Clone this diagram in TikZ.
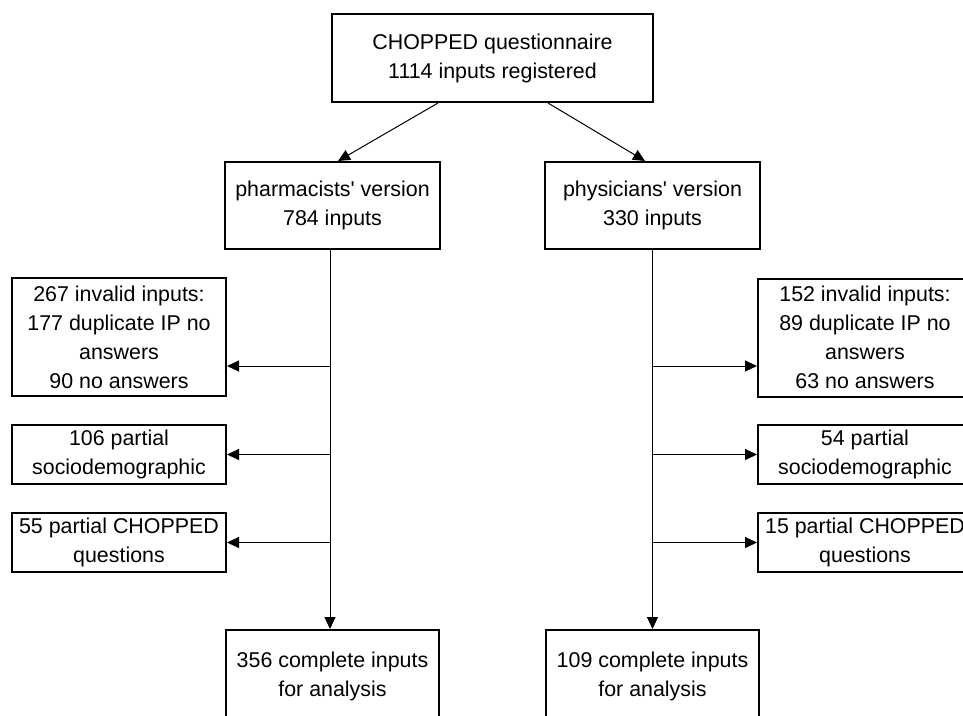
\documentclass[tikz,border=0pt]{standalone}
\usepackage{fontspec}
\newfontfamily\arialfont{Liberation Sans}
\usetikzlibrary{arrows.meta}
\tikzset{
  box/.style={draw=black, line width=2pt, fill=white, align=center, inner sep=0pt,
    font={\arialfont\fontsize{21.4pt}{29pt}\selectfont}},
  arr/.style={draw=black, line width=1pt, -{Triangle[length=12pt,width=11pt]}},
  ln/.style={draw=black, line width=1pt}
}
\begin{document}
\begin{tikzpicture}[x=1pt,y=-1pt]
\clip (0,0) rectangle (963,715);
\fill[white] (0,0) rectangle (963,715);

\node[box, minimum width=321pt, minimum height=88pt] (top) at (492.5,58) {CHOPPED questionnaire\\1114 inputs registered};

\node[box, minimum width=215pt, minimum height=87pt] (ph) at (332.5,205.5) {pharmacists' version\\784 inputs};
\node[box, minimum width=215pt, minimum height=87pt] (py) at (652.5,205.5) {physicians' version\\330 inputs};

\node[box, minimum width=214pt, minimum height=118pt] (l1) at (119,337) {267 invalid inputs:\\177 duplicate IP no\\answers\\90 no answers};
\node[box, minimum width=214pt, minimum height=59pt] (l2) at (119,454.5) {106 partial\\sociodemographic};
\node[box, minimum width=214pt, minimum height=59pt] (l3) at (119,542.5) {55 partial CHOPPED\\questions};

\node[box, minimum width=214pt, minimum height=118pt] (r1) at (865,337.5) {152 invalid inputs:\\89 duplicate IP no\\answers\\63 no answers};
\node[box, minimum width=214pt, minimum height=59pt] (r2) at (865,454.5) {54 partial\\sociodemographic};
\node[box, minimum width=214pt, minimum height=59pt] (r3) at (865,542.5) {15 partial CHOPPED\\questions};

\node[box, minimum width=213pt, minimum height=92pt] (b1) at (332.5,676) {356 complete inputs\\for analysis};
\node[box, minimum width=213pt, minimum height=92pt] (b2) at (652.5,676) {109 complete inputs\\for analysis};

% helper coordinates
\coordinate (phs) at ([xshift=-2.5pt]ph.south);
\coordinate (b1n) at ([xshift=-2.5pt]b1.north);
\coordinate (l1a) at ([yshift=-29pt]l1.east);
\coordinate (r1a) at ([yshift=-28.5pt]r1.west);

% top split
\draw[arr] ([xshift=-54.5pt]top.south) -- ([xshift=5.5pt]ph.north);
\draw[arr] ([xshift=55.5pt]top.south) -- ([xshift=-7.5pt]py.north);

% main vertical flows
\draw[arr] (phs) -- (b1n);
\draw[arr] (py.south) -- (b2.north);

% left exclusions
\draw[arr] (phs |- l1a) -- (l1a);
\draw[arr] (phs |- l2.east) -- (l2.east);
\draw[arr] (phs |- l3.east) -- (l3.east);

% right exclusions
\draw[arr] (py.south |- r1a) -- (r1a);
\draw[arr] (py.south |- r2.west) -- (r2.west);
\draw[arr] (py.south |- r3.west) -- (r3.west);
\end{tikzpicture}
\end{document}
